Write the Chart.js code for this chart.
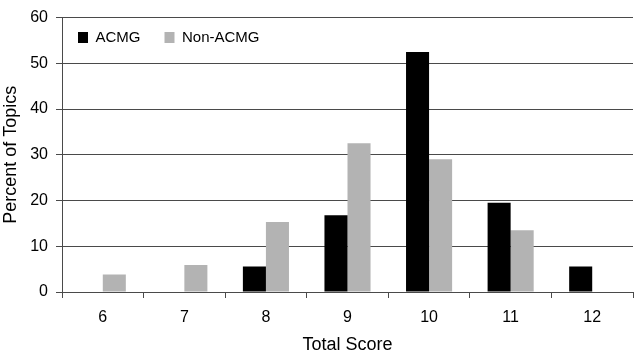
<!DOCTYPE html>
<html>
<head>
<meta charset="utf-8">
<script src="https://cdn.jsdelivr.net/npm/chart.js@4"></script>
<style>
html,body{margin:0;padding:0;background:#fff;}
#wrap{width:636px;height:358px;position:relative;}
</style>
</head>
<body>
<div id="wrap"><canvas id="c" width="636" height="358"></canvas></div>
<script>
const categories = ['6', '7', '8', '9', '10', '11', '12'];
const acmg = [0, 0, 5.6, 16.8, 52.5, 19.5, 5.6];
const nonAcmg = [3.8, 5.9, 15.3, 32.5, 29.0, 13.5, 0];
const seriesNames = ['ACMG', 'Non-ACMG'];
const yTicks = [0, 10, 20, 30, 40, 50, 60];

const FONT = "'Liberation Sans', Arial, sans-serif";
const gridCol = '#4a4a4a';
const LEG_PAD = 24;
const LEG_FONT = 15;
const LEG_H = 2 * LEG_PAD + LEG_FONT;

// Moves the library-drawn legend inside the plot area (top-left).
const legendInside = {
  id: 'legendInside',
  beforeDraw(chart) {
    const lg = chart.legend;
    if (!lg) return;
    const h = lg.height;
    const w = lg.width;
    lg.left = 54;
    lg.top = 6;
    lg.right = lg.left + w;
    lg.bottom = lg.top + h;
  }
};

new Chart(document.getElementById('c'), {
  type: 'bar',
  data: {
    labels: categories,
    datasets: [
      { label: seriesNames[0], data: acmg, backgroundColor: '#000000', borderWidth: 0 },
      { label: seriesNames[1], data: nonAcmg, backgroundColor: '#b3b3b3', borderWidth: 0 }
    ]
  },
  plugins: [legendInside],
  options: {
    responsive: false,
    animation: false,
    devicePixelRatio: 1,
    layout: { padding: { top: 11 - LEG_H, right: 3, left: 0, bottom: 0 } },
    datasets: { bar: { categoryPercentage: 0.565, barPercentage: 1.0 } },
    plugins: {
      legend: {
        position: 'top',
        align: 'start',
        labels: {
          boxWidth: 10,
          boxHeight: 11,
          padding: LEG_PAD,
          color: '#000',
          font: { family: FONT, size: LEG_FONT }
        }
      },
      tooltip: { enabled: false }
    },
    scales: {
      x: {
        grid: { display: true, offset: true, drawOnChartArea: false, drawTicks: true, tickLength: 6, color: gridCol, tickColor: gridCol },
        border: { display: true, color: gridCol, width: 1 },
        ticks: { color: '#000', padding: 10, font: { family: FONT, size: 16 } },
        title: { display: true, text: 'Total Score', color: '#000', font: { family: FONT, size: 18 }, padding: { top: 0, bottom: 2 } },
        afterFit: (s) => { s.height = 66; }
      },
      y: {
        min: 0, max: 60,
        afterBuildTicks: (s) => { s.ticks = yTicks.map(v => ({ value: v })); },
        grid: { display: true, drawOnChartArea: true, drawTicks: true, tickLength: 6, color: gridCol, tickColor: gridCol },
        border: { display: true, color: gridCol, width: 1 },
        ticks: { color: '#000', padding: 8, font: { family: FONT, size: 16 } },
        title: { display: true, text: 'Percent of Topics', color: '#000', font: { family: FONT, size: 18 }, padding: { top: 0, bottom: 0 } },
        afterFit: (s) => { s.width = 62; }
      }
    }
  }
});
</script>
</body>
</html>
